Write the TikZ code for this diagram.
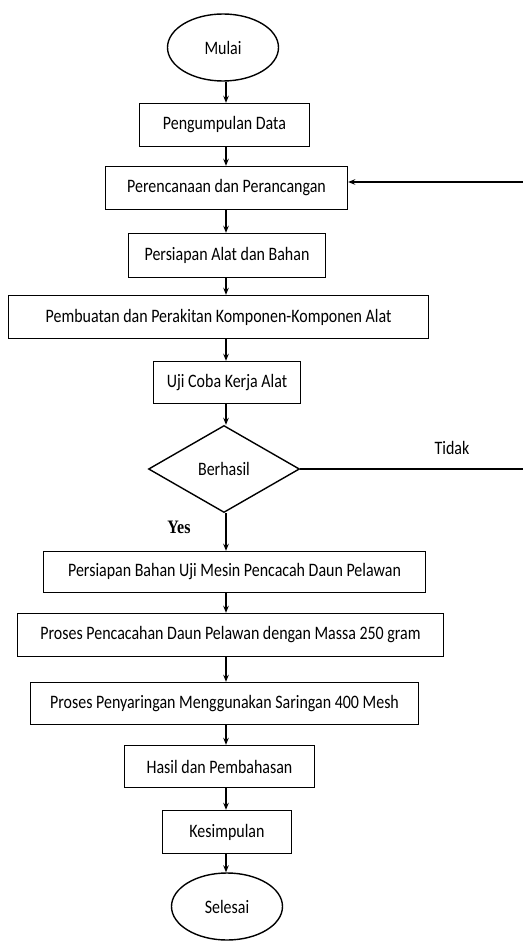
\documentclass[tikz,border=0pt]{standalone}
\usepackage{fontspec}
\setmainfont{Carlito}[FakeStretch=0.84]
\newfontfamily\yesfont{Liberation Serif}[FakeStretch=0.84]
\usepackage{tikz}
\usetikzlibrary{shapes.geometric,arrows.meta}

\begin{document}
\begin{tikzpicture}[x=1pt,y=-1pt,
  font=\fontsize{19}{22}\selectfont,
  kotak/.style={draw,line width=1.4pt,inner sep=0pt,minimum height=43pt},
  oval/.style={draw,ellipse,line width=1.4pt,inner sep=0pt,minimum width=111pt,minimum height=67pt},
  panah/.style={-{Stealth[length=7pt,width=5.5pt]},line width=1.4pt}]
\useasboundingbox (0,0) rectangle (522,941);
\coordinate (kolom) at (226,0);
\node[oval] (mulai) at (223,47.5) {Mulai};
\node[kotak,minimum width=170pt] (kumpul) at (224.5,125) {Pengumpulan Data};
\node[kotak,minimum width=242pt] (rencana) at (226.5,188) {Perencanaan dan Perancangan};
\node[kotak,minimum width=197pt,minimum height=44pt] (alat) at (227,255.5) {Persiapan Alat dan Bahan};
\node[kotak,minimum width=420pt] (buat) at (218.5,317) {Pembuatan dan Perakitan Komponen-Komponen Alat};
\node[kotak,minimum width=147pt,minimum height=42pt] (uji) at (227,382.5) {Uji Coba Kerja Alat};
\node[draw,diamond,line width=1.4pt,inner sep=0pt,minimum width=151pt,minimum height=87pt] (hasil) at (224,469) {Berhasil};
\node[kotak,minimum width=382pt,minimum height=41pt] (bahan) at (234.5,572) {Persiapan Bahan Uji Mesin Pencacah Daun Pelawan};
\node[kotak,minimum width=426pt,minimum height=43pt] (cacah) at (230.5,635) {Proses Pencacahan Daun Pelawan dengan Massa 250 gram};
\node[kotak,minimum width=388pt,minimum height=42pt] (saring) at (224.5,703.5) {Proses Penyaringan Menggunakan Saringan 400 Mesh};
\node[kotak,minimum width=190pt,minimum height=42pt] (bahas) at (219.5,766.5) {Hasil dan Pembahasan};
\node[kotak,minimum width=129pt] (simpul) at (227,832) {Kesimpulan};
\node[oval] (selesai) at (227,906.5) {Selesai};
% labels
\node (tidak) at (452,448) {Tidak};
\node[font=\yesfont\bfseries\fontsize{19}{20}\selectfont] (yes) at (179,527) {Yes};
% arrows
\draw[panah] (mulai.south -| kolom) -- (kumpul.north -| kolom);
\draw[panah] (kumpul.south -| kolom) -- (rencana.north -| kolom);
\draw[panah] (rencana.south -| kolom) -- (alat.north -| kolom);
\draw[panah] (alat.south -| kolom) -- (buat.north -| kolom);
\draw[panah] (buat.south -| kolom) -- (uji.north -| kolom);
\draw[panah] (uji.south -| kolom) -- (hasil.north -| kolom);
\draw[panah] (hasil.south -| kolom) -- (bahan.north -| kolom);
\draw[panah] (bahan.south -| kolom) -- (cacah.north -| kolom);
\draw[panah] (cacah.south -| kolom) -- (saring.north -| kolom);
\draw[panah] (saring.south -| kolom) -- (bahas.north -| kolom);
\draw[panah] (bahas.south -| kolom) -- (simpul.north -| kolom);
\draw[panah] (simpul.south -| kolom) -- (selesai.north -| kolom);
% tidak: back to perencanaan
\coordinate (balik) at (530,182);
\draw[panah] (hasil.east) -- (hasil.east -| balik) -- (balik) -- (balik -| rencana.east);
\end{tikzpicture}
\end{document}
